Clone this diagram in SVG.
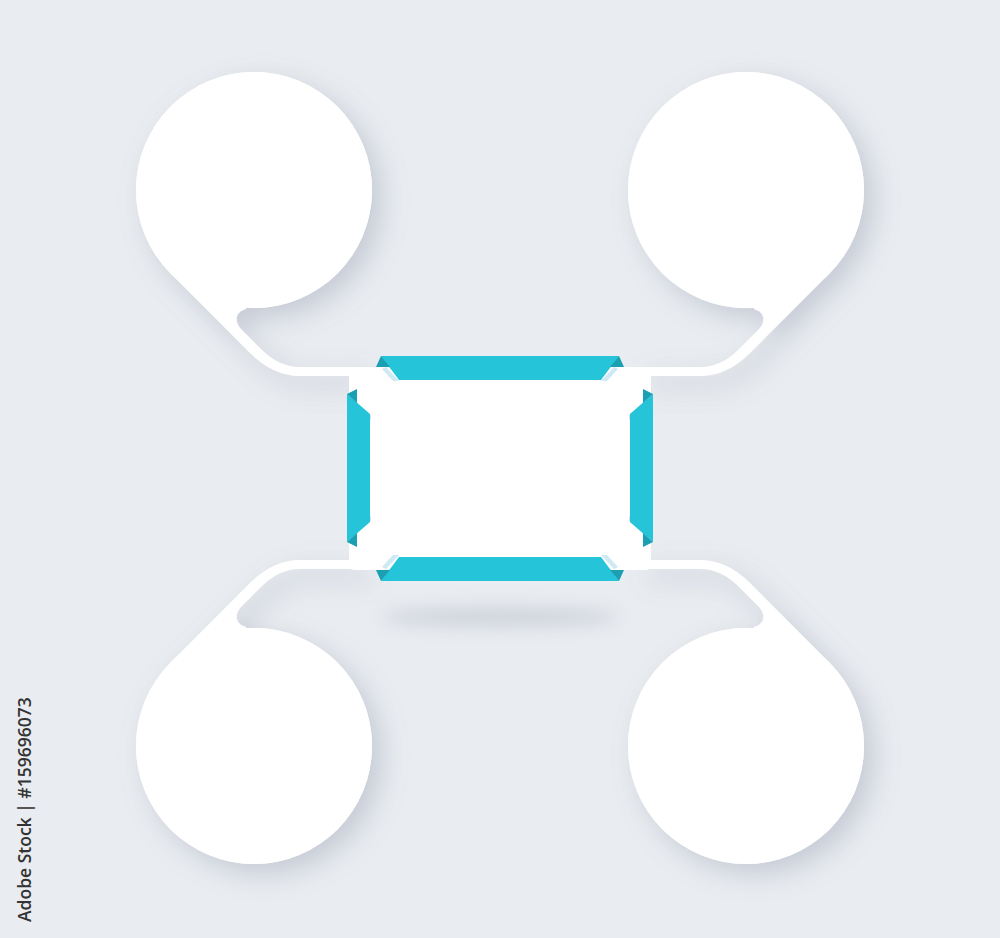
<svg xmlns="http://www.w3.org/2000/svg" width="1000" height="938" viewBox="0 0 1000 938">
  <defs>
    <filter id="sh" x="-30%" y="-30%" width="160%" height="160%">
      <feDropShadow dx="10" dy="10" stdDeviation="13" flood-color="#8e97ab" flood-opacity="0.38"/>
    </filter>
    <filter id="blur" x="-50%" y="-200%" width="200%" height="500%">
      <feGaussianBlur stdDeviation="9"/>
    </filter>
    <g id="quad">
      <path class="white" d="M170.6,273.4 L250,353 Q273,376 300,376 L360,376 L360,367 L300,367 Q279,367 262,350 L242,330 C234,322 235,312 246,309 L254,190 Z"/>
      <circle class="white" cx="254" cy="190" r="118"/>
    </g>
  </defs>
  <style>
    .white { fill: #ffffff; }
    .bar { fill: #26c4d9; }
    .fold { fill: #1a9fb3; }
    .strip { fill: #cfe9f4; }
    .wm { font-family: "Open Sans", "Liberation Sans", sans-serif; font-size: 17.5px; font-weight: 600; fill: #333333; }
  </style>
  <rect width="1000" height="938" fill="#e9ecf0"/>

  <!-- center shadow -->
  <ellipse cx="500" cy="617" rx="120" ry="8" fill="#a9b0bf" opacity="0.5" filter="url(#blur)"/>

  <g id="connectors" filter="url(#sh)">
    <use href="#quad"/>
    <use href="#quad" transform="translate(1000,0) scale(-1,1)"/>
    <use href="#quad" transform="translate(0,936) scale(1,-1)"/>
    <use href="#quad" transform="translate(1000,936) scale(-1,-1)"/>
  </g>

  <g id="node-tl"><circle class="white" cx="254" cy="190" r="118"/></g>
  <g id="node-tr"><circle class="white" cx="746" cy="190" r="118"/></g>
  <g id="node-bl"><circle class="white" cx="254" cy="746" r="118"/></g>
  <g id="node-br"><circle class="white" cx="746" cy="746" r="118"/></g>

  <g id="node-center">
    <rect class="white" x="349" y="367" width="302" height="203" rx="5"/>
    <!-- top bar -->
    <polygon class="strip" points="386,367 399,381 393,381 382,369"/>
    <polygon class="strip" points="614,367 601,381 607,381 618,369"/>
    <polygon class="bar" points="381,356 619,356 601,380 399,380"/>
    <polygon class="fold" points="376,367 381,356 390,367"/>
    <polygon class="fold" points="624,367 619,356 610,367"/>
    <!-- bottom bar -->
    <polygon class="strip" points="386,569 399,555 393,555 382,567"/>
    <polygon class="strip" points="614,569 601,555 607,555 618,567"/>
    <polygon class="bar" points="381,581 619,581 601,557 399,557"/>
    <polygon class="fold" points="376,570 381,581 390,570"/>
    <polygon class="fold" points="624,570 619,581 610,570"/>
    <!-- left bar -->
    <polygon class="strip" points="357,403 371,415 371,421 359,409"/>
    <polygon class="strip" points="357,533 371,521 371,515 359,527"/>
    <polygon class="bar" points="347,394 370,414 370,522 347,542"/>
    <polygon class="fold" points="347,394 357,389 357,403"/>
    <polygon class="fold" points="347,542 357,547 357,533"/>
    <!-- right bar -->
    <polygon class="strip" points="643,403 629,415 629,421 641,409"/>
    <polygon class="strip" points="643,533 629,521 629,515 641,527"/>
    <polygon class="bar" points="653,394 630,414 630,522 653,542"/>
    <polygon class="fold" points="653,394 643,389 643,403"/>
    <polygon class="fold" points="653,542 643,547 643,533"/>
  </g>

  <text class="wm" transform="translate(31,922) rotate(-90)">Adobe Stock | #159696073</text>
</svg>
